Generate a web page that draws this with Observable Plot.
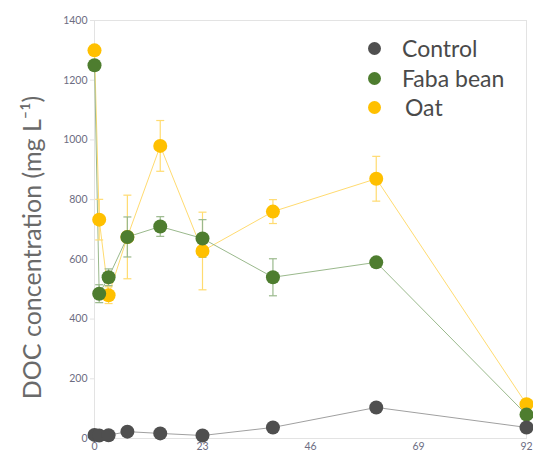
<!DOCTYPE html>
<html><head><meta charset="utf-8">
<script src="https://cdn.jsdelivr.net/npm/d3@7"></script>
<script src="https://cdn.jsdelivr.net/npm/@observablehq/plot@0.6"></script>
<style>
body{margin:0;background:#fff;font-family:Lato,sans-serif;}
#wrap{position:relative;width:533px;height:455px;}
#legend{position:absolute;left:368px;top:34px;font-family:Lato,sans-serif;font-size:23px;color:#4a4a4a;line-height:29.5px;}
#legend .row{display:flex;align-items:center;}
#legend .sw{width:13px;height:13px;border-radius:50%;margin-right:21px;}
</style></head>
<body><div id="wrap"><div id="legend"></div></div>
<script>
const days = [0, 1, 3, 7, 14, 23, 38, 60, 92];
const series = ["Control", "Faba bean", "Oat"];
const colors = ["#4f4f4f", "#4e7d2f", "#ffc000"];
const lineColors = ["#a0a0a0", "#9ab98c", "#ffdb70"];
const control = [12, 10, 11, 23, 17, 10, 37, 104, 37];
const controlErr = [0, 0, 0, 0, 0, 0, 0, 0, 0];
const faba = [1250, 485, 540, 675, 710, 670, 540, 590, 80];
const fabaErr = [0, 30, 28, 67, 33, 63, 62, 12, 12];
const oat = [1300, 733, 480, 675, 980, 628, 760, 870, 115];
const oatErr = [0, 68, 28, 140, 85, 130, 40, 75, 10];
const yTicks = [0, 200, 400, 600, 800, 1000, 1200, 1400];
const xTicks = [0, 23, 46, 69, 92];
const yLabel = "DOC concentration (mg L\u207B\u00B9)";

const vals = [control, faba, oat];
const errs = [controlErr, fabaErr, oatErr];
const data = [];
series.forEach((s, i) => days.forEach((d, j) => data.push({series: s, day: d, value: vals[i][j], err: errs[i][j]})));
const errData = data.filter(d => d.err > 0);
const cap = {draw(ctx, size) { const r = Math.sqrt(size / Math.PI); ctx.moveTo(-r, 0); ctx.lineTo(r, 0); }};
const drawOrder = ["Oat", "Faba bean", "Control"];

const marks = [
  Plot.frame({stroke: "#e3e3e3"}),
  Plot.axisY({ticks: yTicks, tickFormat: d3.format("d"), tickSize: 4, stroke: "#e3e3e3", tickPadding: 3, fontSize: 10.5, fill: "#6d6d82", label: null}),
  Plot.axisX({ticks: xTicks, tickFormat: d3.format("d"), tickSize: 0, tickPadding: 4, fontSize: 10.5, fill: "#6d6d82", label: null}),
  Plot.text([yLabel], {frameAnchor: "left", text: d => d, textAnchor: "middle", rotate: -90, dx: -62, dy: 18, fontSize: 25, fill: "#6a6a6a", fontFamily: "Lato"})
];
drawOrder.forEach(s => {
  const i = series.indexOf(s);
  marks.push(Plot.line(data.filter(d => d.series === s), {x: "day", y: "value", stroke: lineColors[i], strokeWidth: 1}));
});
drawOrder.forEach(s => {
  const i = series.indexOf(s);
  const e = errData.filter(d => d.series === s);
  marks.push(Plot.link(e, {x1: "day", x2: "day", y1: d => d.value - d.err, y2: d => d.value + d.err, stroke: lineColors[i], strokeWidth: 1.2}));
  marks.push(Plot.dot(e, {x: "day", y: d => d.value - d.err, symbol: cap, r: 4, stroke: lineColors[i], strokeWidth: 1.2}));
  marks.push(Plot.dot(e, {x: "day", y: d => d.value + d.err, symbol: cap, r: 4, stroke: lineColors[i], strokeWidth: 1.2}));
});
drawOrder.forEach(s => {
  const i = series.indexOf(s);
  marks.push(Plot.dot(data.filter(d => d.series === s), {x: "day", y: "value", r: 7, fill: colors[i]}));
});

const chart = Plot.plot({
  width: 533, height: 455,
  marginLeft: 94, marginRight: 7, marginTop: 20, marginBottom: 17,
  style: {fontFamily: "Lato, sans-serif", background: "#fff"},
  x: {domain: [0, 92]},
  y: {domain: [0, 1400]},
  marks
});
const wrap = document.getElementById("wrap");
wrap.insertBefore(chart, wrap.firstChild);
const lg = document.getElementById("legend");
series.forEach((s, i) => {
  const row = document.createElement("div"); row.className = "row";
  const sw = document.createElement("span"); sw.className = "sw"; sw.style.background = colors[i];
  const t = document.createElement("span"); t.textContent = s;
  if (s === "Oat") t.style.marginLeft = "3px";
  row.appendChild(sw); row.appendChild(t); lg.appendChild(row);
});
</script></body></html>
